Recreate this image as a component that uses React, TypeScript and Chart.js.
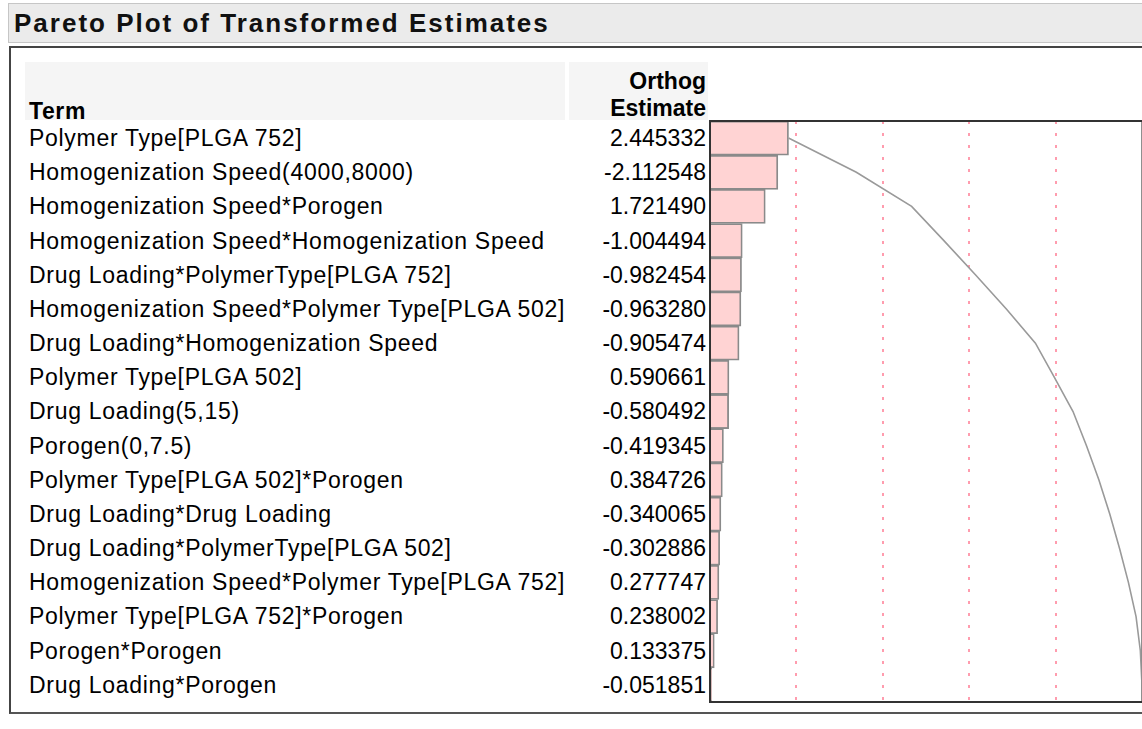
import React, { useEffect, useRef } from "react";
import { Chart, registerables } from "chart.js";

Chart.register(...registerables);

// ---- Data ----
const terms: string[] = [
  "Polymer Type[PLGA 752]",
  "Homogenization Speed(4000,8000)",
  "Homogenization Speed*Porogen",
  "Homogenization Speed*Homogenization Speed",
  "Drug Loading*PolymerType[PLGA 752]",
  "Homogenization Speed*Polymer Type[PLGA 502]",
  "Drug Loading*Homogenization Speed",
  "Polymer Type[PLGA 502]",
  "Drug Loading(5,15)",
  "Porogen(0,7.5)",
  "Polymer Type[PLGA 502]*Porogen",
  "Drug Loading*Drug Loading",
  "Drug Loading*PolymerType[PLGA 502]",
  "Homogenization Speed*Polymer Type[PLGA 752]",
  "Polymer Type[PLGA 752]*Porogen",
  "Porogen*Porogen",
  "Drug Loading*Porogen",
];

const estimates: number[] = [
  2.445332, -2.112548, 1.72149, -1.004494, -0.982454, -0.96328, -0.905474,
  0.590661, -0.580492, -0.419345, 0.384726, -0.340065, -0.302886, 0.277747,
  0.238002, 0.133375, -0.051851,
];

const estimateLabels: string[] = [
  "2.445332", "-2.112548", "1.721490", "-1.004494", "-0.982454", "-0.963280",
  "-0.905474", "0.590661", "-0.580492", "-0.419345", "0.384726", "-0.340065",
  "-0.302886", "0.277747", "0.238002", "0.133375", "-0.051851",
];

const referenceLines: number[] = [20, 40, 60, 80];

const absTotal = estimates.reduce((s, v) => s + Math.abs(v), 0);
const barPercents = estimates.map((v) => (Math.abs(v) / absTotal) * 100);
const cumulativePercents: number[] = [];
barPercents.reduce((acc, v) => {
  const next = acc + v;
  cumulativePercents.push(next);
  return next;
}, 0);

// ---- Layout ----
const FONT = "'Liberation Sans', Arial, sans-serif";
const PLOT_LEFT = 709;
const PLOT_TOP = 120;
const PLOT_W = 434;
const PLOT_H = 583;
const AREA_TOP = PLOT_TOP + 1;
const AREA_BOTTOM = PLOT_TOP + PLOT_H - 1;
const ROW_H = (AREA_BOTTOM - AREA_TOP) / terms.length;

const borderPlugin = {
  id: "plotBorder",
  afterDraw(chart: any) {
    const { ctx, chartArea } = chart;
    const { left, right, top, bottom } = chartArea;
    ctx.save();
    ctx.lineWidth = 2;
    ctx.strokeStyle = "#8f8f8f";
    ctx.beginPath();
    ctx.moveTo(right, top);
    ctx.lineTo(right, bottom);
    ctx.stroke();
    ctx.strokeStyle = "#333333";
    ctx.beginPath();
    ctx.moveTo(right, top);
    ctx.lineTo(left, top);
    ctx.lineTo(left, bottom);
    ctx.lineTo(right, bottom);
    ctx.stroke();
    ctx.restore();
  },
};

function ParetoCanvas() {
  const ref = useRef<HTMLCanvasElement | null>(null);
  useEffect(() => {
    if (!ref.current) return;
    const chart = new Chart(ref.current, {
      type: "bar",
      data: {
        labels: terms,
        datasets: [
          {
            type: "line",
            data: cumulativePercents,
            borderColor: "#9a9a9a",
            borderWidth: 1.6,
            pointRadius: 0,
            tension: 0,
            fill: false,
            order: 0,
          } as any,
          {
            type: "bar",
            data: barPercents,
            backgroundColor: "#ffd3d3",
            borderColor: "#8a8a8a",
            borderWidth: 1.8,
            barPercentage: 1,
            categoryPercentage: 1,
            order: 1,
          },
        ],
      },
      plugins: [borderPlugin],
      options: {
        indexAxis: "y",
        animation: false,
        responsive: true,
        maintainAspectRatio: false,
        layout: { padding: { left: 1, top: 1, right: 1, bottom: 1 } },
        plugins: { legend: { display: false }, tooltip: { enabled: false } },
        scales: {
          x: {
            type: "linear",
            min: 0,
            max: 100,
            ticks: { display: false, stepSize: 20 },
            border: { display: false, dash: [3, 9] },
            grid: {
              drawTicks: false,
              lineWidth: 2,
              color: (c: any) =>
                referenceLines.includes(c.tick?.value) ? "#ff9cae" : "rgba(0,0,0,0)",
            },
          },
          y: {
            type: "category",
            ticks: { display: false },
            border: { display: false },
            grid: { display: false, drawTicks: false },
          },
        },
      } as any,
    });
    return () => chart.destroy();
  }, []);
  return <canvas ref={ref} />;
}

export default function App() {
  return (
    <div
      style={{
        position: "fixed",
        left: 0,
        top: 0,
        width: 1142,
        height: 729,
        background: "#ffffff",
        overflow: "hidden",
        fontFamily: FONT,
        color: "#000",
      }}
    >
      {/* Title bar */}
      <div
        style={{
          position: "absolute",
          left: 8,
          top: 3,
          width: 1140,
          height: 40,
          background: "#ebebeb",
          border: "1px solid #c6c6c6",
          boxSizing: "border-box",
        }}
      />
      <div
        style={{
          position: "absolute",
          left: 14,
          top: 4,
          height: 38,
          lineHeight: "38px",
          fontSize: 26,
          fontWeight: "bold",
          letterSpacing: "2px",
          whiteSpace: "nowrap",
          color: "#111",
        }}
      >
        Pareto Plot of Transformed Estimates
      </div>
      {/* Outer frame */}
      <div
        style={{
          position: "absolute",
          left: 9,
          top: 46,
          width: 1150,
          height: 668,
          borderLeft: "2px solid #444",
          borderTop: "2px solid #444",
          borderBottom: "2px solid #555",
          boxSizing: "border-box",
        }}
      />
      {/* Header cells */}
      <div style={{ position: "absolute", left: 25, top: 62, width: 540, height: 58, background: "#f5f5f5" }} />
      <div style={{ position: "absolute", left: 569, top: 62, width: 139, height: 58, background: "#f5f5f5" }} />
      <div
        style={{
          position: "absolute",
          left: 29,
          top: 98,
          height: 26,
          lineHeight: "26px",
          fontSize: 23,
          fontWeight: "bold",
          letterSpacing: "0.6px",
        }}
      >
        Term
      </div>
      <div
        style={{
          position: "absolute",
          left: 560,
          width: 146,
          top: 68,
          textAlign: "right",
          fontSize: 23,
          fontWeight: "bold",
          lineHeight: "27px",
        }}
      >
        <div>Orthog</div>
        <div>Estimate</div>
      </div>
      {/* Rows */}
      {terms.map((t, i) => (
        <div
          key={"t" + i}
          style={{
            position: "absolute",
            left: 29,
            top: AREA_TOP + i * ROW_H,
            height: ROW_H,
            lineHeight: ROW_H + "px",
            fontSize: 23,
            letterSpacing: "0.7px",
            whiteSpace: "nowrap",
          }}
        >
          {t}
        </div>
      ))}
      {estimateLabels.map((t, i) => (
        <div
          key={"e" + i}
          style={{
            position: "absolute",
            left: 560,
            width: 146,
            textAlign: "right",
            top: AREA_TOP + i * ROW_H,
            height: ROW_H,
            lineHeight: ROW_H + "px",
            fontSize: 23,
            whiteSpace: "nowrap",
          }}
        >
          {t}
        </div>
      ))}
      {/* Plot */}
      <div
        style={{
          position: "absolute",
          left: PLOT_LEFT,
          top: PLOT_TOP,
          width: PLOT_W,
          height: PLOT_H,
        }}
      >
        <ParetoCanvas />
      </div>
    </div>
  );
}
